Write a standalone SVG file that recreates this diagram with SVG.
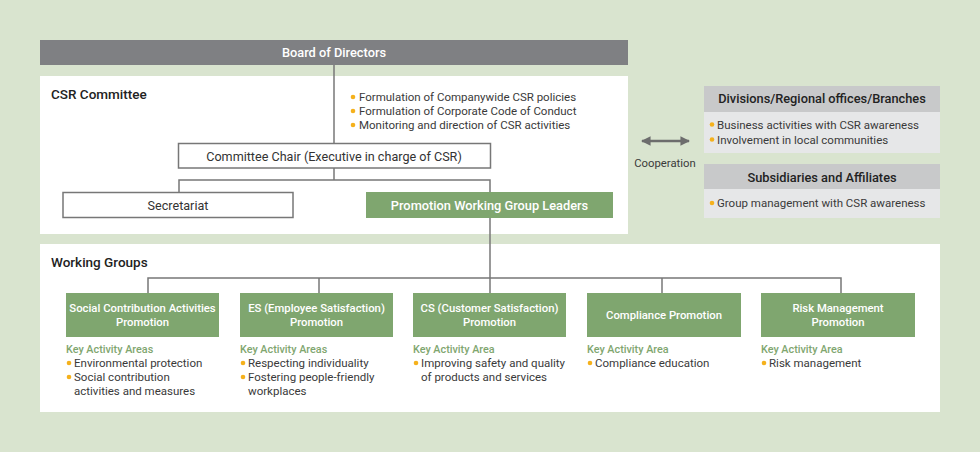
<svg xmlns="http://www.w3.org/2000/svg" width="980" height="452" viewBox="0 0 980 452">
<defs>
<style>
text{font-family:Roboto,"Liberation Sans",sans-serif;}
.t{font-size:11.5px;fill:#3a3a3a;}
.h{font-size:13.5px;font-weight:500;fill:#222;}
.w{font-size:11.3px;font-weight:500;fill:#fff;text-anchor:middle;}
.k{font-size:10.8px;font-weight:500;fill:#7fa66f;}
.g{fill:#7fa66f;}
.ln{fill:none;stroke:#777;stroke-width:1.5;}
.bx{fill:#fff;stroke:#777;stroke-width:1.5;}
.dot{fill:#f5b11c;}
.c{text-anchor:middle;}
</style>
<marker id="ah" viewBox="0 0 10 10" refX="9" refY="5" markerWidth="3.8" markerHeight="3.8" orient="auto-start-reverse">
<path d="M0,0 L10,5 L0,10 z" fill="#6d6d6d"/>
</marker>
</defs>
<rect x="0" y="0" width="980" height="452" fill="#d9e4cf"/>
<g id="panels">
<rect x="40" y="76" width="588" height="158" fill="#fff"/>
<rect x="40" y="244" width="900" height="168" fill="#fff"/>
</g>
<g id="connectors">
<line class="ln" x1="334" y1="65" x2="334" y2="143"/>
<polyline class="ln" points="179,192 179,180 490,180 490,192"/>
<line class="ln" x1="334" y1="168" x2="334" y2="180"/>
<line class="ln" x1="490" y1="218" x2="490" y2="293"/>
<polyline class="ln" points="148,293 148,278 841,278 841,293"/>
<line class="ln" x1="319" y1="278" x2="319" y2="293"/>
<line class="ln" x1="662" y1="278" x2="662" y2="293"/>
<line x1="642" y1="141" x2="689" y2="141" stroke="#6d6d6d" stroke-width="2.5" marker-start="url(#ah)" marker-end="url(#ah)"/>
</g>
<g id="board">
<rect x="40" y="40" width="588" height="25" fill="#7f8083"/>
<text x="334" y="57" class="c" style="font-size:12.8px;font-weight:500;fill:#fff">Board of Directors</text>
</g>
<g id="csr-committee">
<text x="51" y="99" class="h">CSR Committee</text>
<circle class="dot" cx="353" cy="97" r="2.3"/>
<text x="359" y="101" class="t">Formulation of Companywide CSR policies</text>
<circle class="dot" cx="353" cy="111" r="2.3"/>
<text x="359" y="115" class="t">Formulation of Corporate Code of Conduct</text>
<circle class="dot" cx="353" cy="125" r="2.3"/>
<text x="359" y="129" class="t">Monitoring and direction of CSR activities</text>
</g>
<g id="chair">
<rect class="bx" x="178.5" y="143.5" width="312" height="24.5"/>
<text x="334" y="161" class="c" style="font-size:12.6px;fill:#333">Committee Chair (Executive in charge of CSR)</text>
</g>
<g id="secretariat">
<rect class="bx" x="63" y="192.5" width="230" height="25"/>
<text x="178" y="210" class="c" style="font-size:12.6px;fill:#333">Secretariat</text>
</g>
<g id="pwgl">
<rect class="g" x="366" y="192" width="247" height="26"/>
<text x="489.5" y="210" class="c" style="font-size:12.8px;font-weight:500;fill:#fff">Promotion Working Group Leaders</text>
</g>
<g id="cooperation">
<text x="665" y="167" class="c" style="font-size:11.3px;fill:#3a3a3a">Cooperation</text>
</g>
<g id="divisions">
<rect x="704" y="86" width="236" height="26" fill="#c8c9ca"/>
<rect x="704" y="112" width="236" height="41" fill="#e6e7e8"/>
<text x="822" y="103" class="c" style="font-size:12.8px;font-weight:500;fill:#222">Divisions/Regional offices/Branches</text>
<circle class="dot" cx="712" cy="124.5" r="2.3"/>
<text x="717" y="128.5" class="t">Business activities with CSR awareness</text>
<circle class="dot" cx="712" cy="139.5" r="2.3"/>
<text x="717" y="143.5" class="t">Involvement in local communities</text>
</g>
<g id="subsidiaries">
<rect x="704" y="164" width="236" height="25" fill="#c8c9ca"/>
<rect x="704" y="189" width="236" height="29" fill="#e6e7e8"/>
<text x="822" y="182" class="c" style="font-size:12.8px;font-weight:500;fill:#222">Subsidiaries and Affiliates</text>
<circle class="dot" cx="712" cy="203" r="2.3"/>
<text x="717" y="207" class="t">Group management with CSR awareness</text>
</g>
<g id="working-groups-title">
<text x="51" y="267" class="h">Working Groups</text>
</g>
<g id="wg-social">
<rect class="g" x="66" y="293" width="153" height="44"/>
<text x="142.5" y="312" class="w">Social Contribution Activities</text>
<text x="142.5" y="326" class="w">Promotion</text>
<text x="66" y="353" class="k">Key Activity Areas</text>
<circle class="dot" cx="69" cy="363" r="2.3"/>
<text x="74" y="367" class="t">Environmental protection</text>
<circle class="dot" cx="69" cy="377" r="2.3"/>
<text x="74" y="381" class="t">Social contribution</text>
<text x="74" y="395" class="t">activities and measures</text>
</g>
<g id="wg-es">
<rect class="g" x="240" y="293" width="153" height="44"/>
<text x="316.5" y="312" class="w">ES (Employee Satisfaction)</text>
<text x="316.5" y="326" class="w">Promotion</text>
<text x="240" y="353" class="k">Key Activity Areas</text>
<circle class="dot" cx="243" cy="363" r="2.3"/>
<text x="248" y="367" class="t">Respecting individuality</text>
<circle class="dot" cx="243" cy="377" r="2.3"/>
<text x="248" y="381" class="t">Fostering people-friendly</text>
<text x="248" y="395" class="t">workplaces</text>
</g>
<g id="wg-cs">
<rect class="g" x="413" y="293" width="153" height="44"/>
<text x="489.5" y="312" class="w">CS (Customer Satisfaction)</text>
<text x="489.5" y="326" class="w">Promotion</text>
<text x="413" y="353" class="k">Key Activity Area</text>
<circle class="dot" cx="416" cy="363" r="2.3"/>
<text x="421" y="367" class="t">Improving safety and quality</text>
<text x="421" y="381" class="t">of products and services</text>
</g>
<g id="wg-compliance">
<rect class="g" x="587" y="293" width="154" height="44"/>
<text x="664" y="319" class="w">Compliance Promotion</text>
<text x="587" y="353" class="k">Key Activity Area</text>
<circle class="dot" cx="590" cy="363" r="2.3"/>
<text x="595" y="367" class="t">Compliance education</text>
</g>
<g id="wg-risk">
<rect class="g" x="761" y="293" width="154" height="44"/>
<text x="838" y="312" class="w">Risk Management</text>
<text x="838" y="326" class="w">Promotion</text>
<text x="761" y="353" class="k">Key Activity Area</text>
<circle class="dot" cx="764" cy="363" r="2.3"/>
<text x="769" y="367" class="t">Risk management</text>
</g>
</svg>
